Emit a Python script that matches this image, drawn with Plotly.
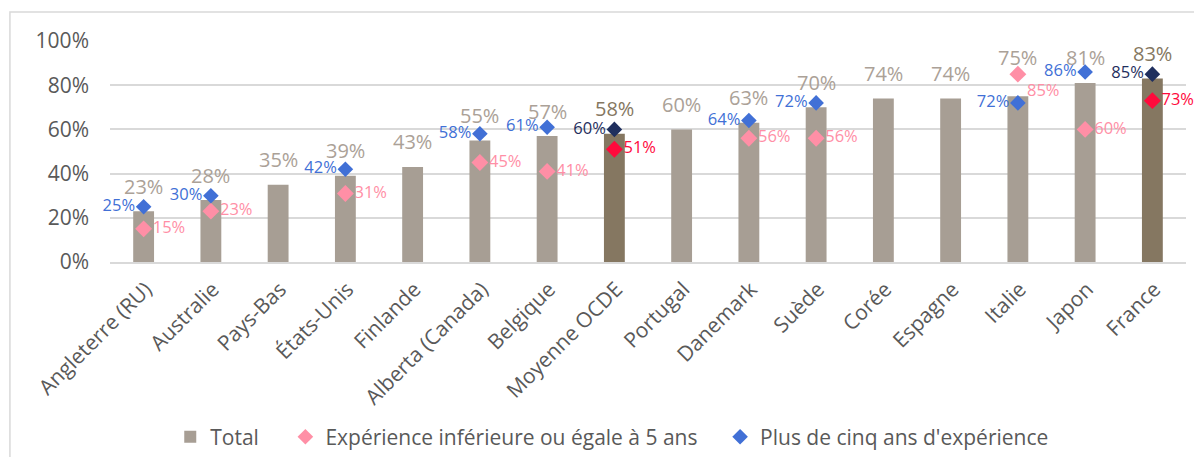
import plotly.graph_objects as go

categories = ["Angleterre (RU)", "Australie", "Pays-Bas", "États-Unis", "Finlande",
              "Alberta (Canada)", "Belgique", "Moyenne OCDE", "Portugal", "Danemark",
              "Suède", "Corée", "Espagne", "Italie", "Japon", "France"]
total = [23, 28, 35, 39, 43, 55, 57, 58, 60, 63, 70, 74, 74, 75, 81, 83]
exp_le5 = [15, 23, None, 31, None, 45, 41, 51, None, 56, 56, None, None, 85, 60, 73]
exp_gt5 = [25, 30, None, 42, None, 58, 61, 60, None, 64, 72, None, None, 72, 86, 85]
highlight = ["Moyenne OCDE", "France"]

FONT = "Open Sans"
GREY_TXT = "#595959"
BAR = "#A79E94"
BAR_DARK = "#857761"
LBL = "#ABA197"
PINK = "#FF8FA6"
RED = "#FF0A3C"
BLUE = "#4170D6"
NAVY = "#1F2F5E"

bar_colors = [BAR_DARK if c in highlight else BAR for c in categories]
pink_colors = [RED if c in highlight else PINK for c in categories]
blue_colors = [NAVY if c in highlight else BLUE for c in categories]

fig = go.Figure()
fig.add_trace(go.Bar(
    x=categories, y=total, name="Total", width=0.31,
    marker=dict(color=bar_colors, line=dict(width=0)),
    hoverinfo="skip", legend="legend",
))
fig.add_trace(go.Scatter(
    x=categories, y=exp_le5, name="Expérience inférieure ou égale à 5 ans",
    mode="markers+text",
    marker=dict(symbol="diamond", size=13, color=pink_colors),
    text=[f"{v}%" if v is not None else "" for v in exp_le5],
    textposition=["bottom right" if c == "Italie" else "middle right" for c in categories],
    textfont=dict(family=FONT, size=16.5, color=pink_colors),
    cliponaxis=False, legend="legend2",
))
fig.add_trace(go.Scatter(
    x=categories, y=exp_gt5, name="Plus de cinq ans d'expérience",
    mode="markers+text",
    marker=dict(symbol="diamond", size=12, color=blue_colors),
    text=[f"{v}%" if v is not None else "" for v in exp_gt5],
    textposition="middle left",
    textfont=dict(family=FONT, size=16.5, color=blue_colors),
    cliponaxis=False, legend="legend3",
))

for c, v in zip(categories, total):
    fig.add_annotation(
        x=c, y=v, text=f"{v}%", showarrow=False, yshift=39 if c == "Italie" else 25,
        font=dict(family=FONT, size=20, color=BAR_DARK if c in highlight else LBL),
    )

# outer frame
fig.add_shape(type="rect", xref="paper", yref="paper",
              x0=-0.093, x1=1.2, y0=-1.3, y1=1.131,
              line=dict(color="#D9D9D9", width=1.5), fillcolor="rgba(0,0,0,0)", layer="below")

leg_common = dict(orientation="h", y=-0.792, yanchor="middle", xanchor="left",
                  font=dict(family=FONT, size=21, color=GREY_TXT),
                  bgcolor="rgba(0,0,0,0)", itemsizing="constant")

fig.update_layout(
    width=1194, height=449,
    margin=dict(l=102, r=16, t=33, b=195, autoexpand=False),
    plot_bgcolor="white", paper_bgcolor="white",
    font=dict(family=FONT, color=GREY_TXT),
    bargap=0.69,
    showlegend=True,
    legend=dict(x=0.056, **leg_common),
    legend2=dict(x=0.163, **leg_common),
    legend3=dict(x=0.567, **leg_common),
    xaxis=dict(tickangle=-45, tickfont=dict(family=FONT, size=21, color=GREY_TXT),
               showgrid=False, showline=True, linecolor="#D9D9D9", linewidth=1.5,
               ticks="", automargin=False, range=[-0.5, 15.5],
               ticklabelshift=2, ticklabelstandoff=5),
    yaxis=dict(range=[0, 100], dtick=20, ticksuffix="%",
               tickfont=dict(family=FONT, size=21, color=GREY_TXT),
               showgrid=True, gridcolor="#D9D9D9", gridwidth=1.5,
               zeroline=False, showline=False, ticks="", ticklabelstandoff=20,
               automargin=False),
)

fig.write_html("out.html")
